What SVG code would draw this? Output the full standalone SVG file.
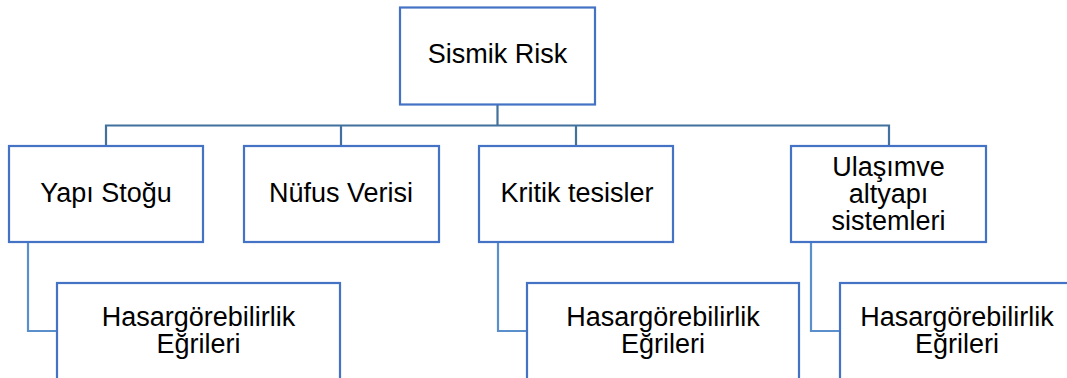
<svg xmlns="http://www.w3.org/2000/svg" width="1067" height="378" viewBox="0 0 1067 378">
<style>
.box{fill:#fff;stroke:#4472C4;stroke-width:2.2}
.bus{fill:none;stroke:#41719C;stroke-width:2.2}
.sub{fill:none;stroke:#5B8FCC;stroke-width:2.2}
text{font-family:"Liberation Sans",Arial,sans-serif;font-size:27px;fill:#000;text-anchor:middle}
</style>
<rect width="1067" height="378" fill="#fff"/>
<g id="connectors">
<path class="bus" d="M497.5,105 V125.5 M106,146 V125.5 H889 V146 M341,125.5 V146 M576,125.5 V146"/>
<path class="sub" d="M28,242 V331 H57"/>
<path class="sub" d="M498,242 V331 H527"/>
<path class="sub" d="M811,242 V331 H840"/>
</g>
<g id="sismik-risk">
<rect class="box" x="400" y="7.5" width="195" height="97"/>
<text x="497.5" y="63">Sismik Risk</text>
</g>
<g id="yapi-stogu">
<rect class="box" x="9" y="146" width="194" height="96"/>
<text x="106" y="202">Yapı Stoğu</text>
</g>
<g id="nufus-verisi">
<rect class="box" x="244" y="146" width="195" height="96"/>
<text x="341" y="202">Nüfus Verisi</text>
</g>
<g id="kritik-tesisler">
<rect class="box" x="479" y="146" width="194" height="96"/>
<text x="577" y="202">Kritik tesisler</text>
</g>
<g id="ulasim">
<rect class="box" x="791" y="146" width="195" height="96"/>
<text x="888.5" y="176">Ulaşımve<tspan x="888.5" dy="27">altyapı</tspan><tspan x="888.5" dy="27">sistemleri</tspan></text>
</g>
<g id="hasar-1">
<rect class="box" x="57" y="283" width="283" height="120"/>
<text x="198.5" y="326">Hasargörebilirlik<tspan x="198.5" dy="27">Eğrileri</tspan></text>
</g>
<g id="hasar-2">
<rect class="box" x="527" y="283" width="272" height="120"/>
<text x="663" y="326">Hasargörebilirlik<tspan x="663" dy="27">Eğrileri</tspan></text>
</g>
<g id="hasar-3">
<rect class="box" x="840" y="283" width="234" height="120"/>
<text x="957" y="326">Hasargörebilirlik<tspan x="957" dy="27">Eğrileri</tspan></text>
</g>
</svg>
